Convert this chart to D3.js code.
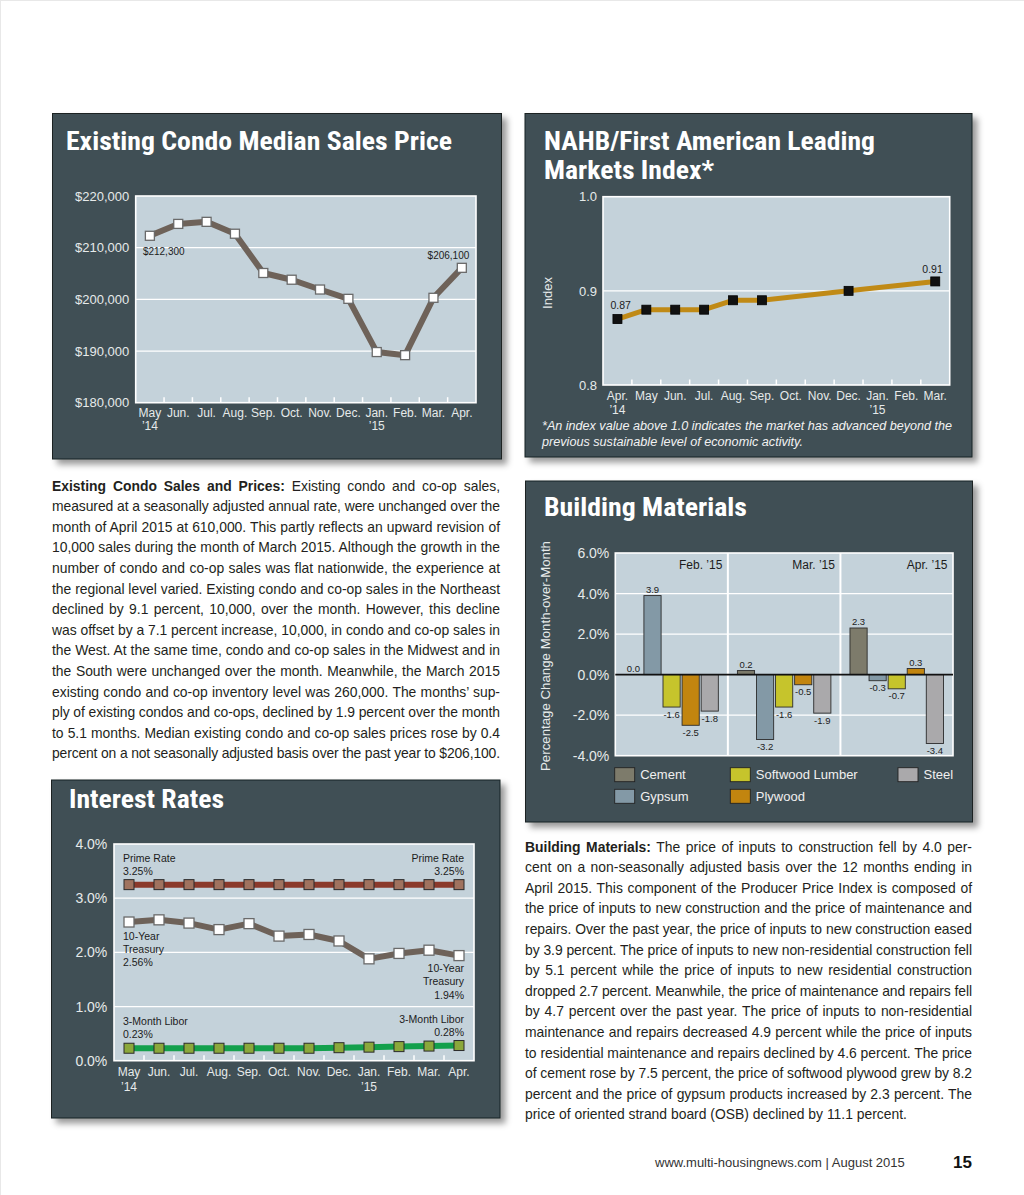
<!DOCTYPE html>
<html><head><meta charset="utf-8">
<script src="https://cdn.jsdelivr.net/npm/d3@7"></script>
<style>
html,body{margin:0;padding:0;background:#fff;}
svg{display:block;}
</style></head>
<body>
<svg id="page" width="1024" height="1195"></svg>
<script>
// ---------------- DATA ----------------
const condoMonths = ["May","Jun.","Jul.","Aug.","Sep.","Oct.","Nov.","Dec.","Jan.","Feb.","Mar.","Apr."];
const condoYears  = ["’14","","","","","","","","’15","","",""];
const condoPrices = [212300,214600,215000,212700,205100,203800,201900,200100,189800,189200,200300,206100];
const condoTicks  = [180000,190000,200000,210000,220000];

const nahbMonths = ["Apr.","May","Jun.","Jul.","Aug.","Sep.","Oct.","Nov.","Dec.","Jan.","Feb.","Mar."];
const nahbYears  = ["’14","","","","","","","","","’15","",""];
const nahbIndex  = [0.87,0.88,0.88,0.88,0.89,0.89,null,null,0.90,null,null,0.91];
const nahbTicks  = [0.8,0.9,1.0];

const bmPeriods   = ["Feb. ’15","Mar. ’15","Apr. ’15"];
const bmMaterials = ["Cement","Gypsum","Softwood Lumber","Plywood","Steel"];
const bmCement    = [0.0,0.2,2.3];
const bmGypsum    = [3.9,-3.2,-0.3];
const bmSoftwood  = [-1.6,-1.6,-0.7];
const bmPlywood   = [-2.5,-0.5,0.3];
const bmSteel     = [-1.8,-1.9,-3.4];
const bmTicks     = [-4,-2,0,2,4,6];

const rateMonths = ["May","Jun.","Jul.","Aug.","Sep.","Oct.","Nov.","Dec.","Jan.","Feb.","Mar.","Apr."];
const rateYears  = ["’14","","","","","","","","’15","","",""];
const primeRate  = [3.25,3.25,3.25,3.25,3.25,3.25,3.25,3.25,3.25,3.25,3.25,3.25];
const treasury10 = [2.56,2.60,2.54,2.42,2.53,2.30,2.33,2.21,1.88,1.98,2.04,1.94];
const libor3m    = [0.23,0.23,0.23,0.23,0.23,0.23,0.23,0.24,0.25,0.26,0.27,0.28];
const rateTicks  = [0,1,2,3,4];

// ---------------- STYLE ----------------
const FONT  = "'Liberation Sans', Arial, Helvetica, sans-serif";
const TFONT = "'Liberation Sans Narrow', 'Arial Narrow', 'Roboto Condensed', 'Liberation Sans', Arial, sans-serif";
const C = {panel:"#3f5054", plot:"#c4d2da", tick:"#e6eaea", ink:"#1c1c1c", text:"#231f20"};
const bmColors = {"Cement":"#7d7b6b","Gypsum":"#8399a6","Softwood Lumber":"#c6c42c","Plywood":"#c2850f","Steel":"#aaa9ab"};

const svg = d3.select("#page");
svg.append("rect").attr("x",0.5).attr("y",0.5).attr("width",1030).attr("height",1200)
  .attr("fill","#fff").attr("stroke","#e8e8e8").attr("stroke-width",1);
const defs = svg.append("defs");
const flt = defs.append("filter").attr("id","shadow").attr("x","-5%").attr("y","-5%").attr("width","115%").attr("height","115%");
flt.append("feDropShadow").attr("dx",5).attr("dy",5).attr("stdDeviation",3).attr("flood-color","#000").attr("flood-opacity",0.4);

function panel(x,y,w,h){
  svg.append("rect").attr("x",x).attr("y",y).attr("width",w).attr("height",h)
    .attr("fill",C.panel).attr("stroke","#1b2224").attr("stroke-width",1).attr("filter","url(#shadow)");
}
function title(text,x,y,w){
  svg.append("text").attr("x",x).attr("y",y).attr("font-family",TFONT).attr("font-weight","bold")
    .attr("font-size",25).attr("fill","#fff").attr("textLength",w).attr("lengthAdjust","spacingAndGlyphs").text(text);
}

function lineChart(o){
  const x = d3.scaleBand().domain(o.months).range([o.left,o.right]);
  const y = d3.scaleLinear().domain(o.domain).range([o.bottom,o.top]);
  const g = svg.append("g");
  g.append("rect").attr("x",o.left).attr("y",o.top).attr("width",o.right-o.left).attr("height",o.bottom-o.top).attr("fill",C.plot);
  g.selectAll(".grid").data(o.ticks.slice(1,-1)).join("line")
    .attr("x1",o.left).attr("x2",o.right).attr("y1",d=>y(d)).attr("y2",d=>y(d))
    .attr("stroke","#fff").attr("stroke-width",1.2);
  g.selectAll(".bt").data(o.months.slice(1)).join("line")
    .attr("x1",d=>x(d)).attr("x2",d=>x(d)).attr("y1",o.bottom).attr("y2",o.bottom-5.5)
    .attr("stroke","#fff").attr("stroke-width",1.5);
  g.append("rect").attr("x",o.left).attr("y",o.top).attr("width",o.right-o.left).attr("height",o.bottom-o.top)
    .attr("fill","none").attr("stroke","#fff").attr("stroke-width",1.6);
  const ya = g.append("g").attr("transform",`translate(${o.left},0)`)
    .call(d3.axisLeft(y).tickValues(o.ticks).tickFormat(o.fmt).tickSize(0).tickPadding(o.yPad));
  ya.select(".domain").remove();
  ya.attr("font-family",FONT).attr("font-size",o.ySize);
  ya.selectAll("text").attr("fill",C.tick);
  const xa = g.append("g").attr("transform",`translate(0,${o.bottom})`)
    .call(d3.axisBottom(x).tickSize(0).tickPadding(o.xPad));
  xa.select(".domain").remove();
  xa.attr("font-family",FONT).attr("font-size",12);
  xa.selectAll("text").attr("fill",C.tick).each(function(d,i){
    if(o.years[i]) d3.select(this).append("tspan").attr("x",0).attr("dy",o.yearDy).text(o.years[i]);
  });
  return {x,y,g};
}
function drawSeries(c, months, values, s){
  const pts = months.map((m,i)=>({m,v:values[i]})).filter(d=>d.v!=null);
  const cx = d=>c.x(d.m)+c.x.bandwidth()/2;
  c.g.append("path").datum(pts)
    .attr("d", d3.line().x(cx).y(d=>c.y(d.v)))
    .attr("fill","none").attr("stroke",s.color).attr("stroke-width",s.width)
    .attr("stroke-linejoin","round").attr("stroke-linecap","round");
  c.g.selectAll(null).data(pts).join("rect")
    .attr("x",d=>cx(d)-s.size/2).attr("y",d=>c.y(d.v)-s.size/2)
    .attr("width",s.size).attr("height",s.size)
    .attr("fill",s.fill).attr("stroke",s.stroke).attr("stroke-width",s.sw);
}
function label(lines,x,y,anchor,size,lh){
  const t = svg.append("text").attr("font-family",FONT).attr("font-size",size).attr("fill",C.ink).attr("text-anchor",anchor);
  lines.forEach((l,i)=>t.append("tspan").attr("x",x).attr("y",y+i*lh).text(l));
}

// ================= PANEL 1: Condo =================
panel(52.5,113.5,449,345.5);
title("Existing Condo Median Sales Price",66,149.5,386);
const c1 = lineChart({left:135.7,right:476,top:196,bottom:402.7,months:condoMonths,years:condoYears,
  domain:[180000,220000],ticks:condoTicks,fmt:d=>"$"+d3.format(",")(d),yPad:6.5,ySize:13,xPad:5.8,yearDy:"1.05em"});
drawSeries(c1,condoMonths,condoPrices,{color:"#6e6259",width:6,size:9,fill:"#fff",stroke:"#6a6a6a",sw:1.3});
label(["$"+d3.format(",")(condoPrices[0])], c1.x(condoMonths[0])+c1.x.bandwidth()/2-7, c1.y(condoPrices[0])+19.5,"start",10,12);
label(["$"+d3.format(",")(condoPrices[11])], c1.x(condoMonths[11])+c1.x.bandwidth()/2+7.5, c1.y(condoPrices[11])-8.5,"end",10,12);

// ================= PANEL 2: NAHB =================
panel(525,113.5,447,343.5);
title("NAHB/First American Leading",544,149.5,331);
title("Markets Index*",544,179,170);
const c2 = lineChart({left:603,right:949.7,top:196.7,bottom:385,months:nahbMonths,years:nahbYears,
  domain:[0.8,1.0],ticks:nahbTicks,fmt:d3.format(".1f"),yPad:6,ySize:13,xPad:6.8,yearDy:"1.1em"});
drawSeries(c2,nahbMonths,nahbIndex,{color:"#c08a16",width:5,size:9,fill:"#111",stroke:"#000",sw:0.8});
label([nahbIndex[0].toFixed(2)], c2.x(nahbMonths[0])+c2.x.bandwidth()/2-7, c2.y(nahbIndex[0])-10.5,"start",10.5,12);
label([nahbIndex[11].toFixed(2)], c2.x(nahbMonths[11])+c2.x.bandwidth()/2+7.5, c2.y(nahbIndex[11])-8.5,"end",10.5,12);
svg.append("text").attr("x",547).attr("y",293).attr("transform","rotate(-90,547,293)")
  .attr("text-anchor","middle").attr("dy","0.35em").attr("font-family",FONT).attr("font-size",13).attr("fill",C.tick).text("Index");
const fn = svg.append("text").attr("font-family",FONT).attr("font-style","italic").attr("font-size",12).attr("fill","#f2f2f2");
fn.append("tspan").attr("x",542).attr("y",429.5).attr("textLength",410).attr("lengthAdjust","spacingAndGlyphs")
  .text("*An index value above 1.0 indicates the market has advanced beyond the");
fn.append("tspan").attr("x",542).attr("y",446).attr("textLength",261).attr("lengthAdjust","spacingAndGlyphs")
  .text("previous sustainable level of economic activity.");

// ================= PANEL 3: Building Materials =================
panel(525.5,481,447,341);
title("Building Materials",544,515.7,203);
{
  const left=615.3,right=953,top=553,bottom=755.7;
  const x0 = d3.scaleBand().domain(bmPeriods).range([left,right]);
  const x1 = d3.scaleBand().domain(bmMaterials).range([0,x0.bandwidth()]).paddingInner(0.1).paddingOuter(0.5);
  const y = d3.scaleLinear().domain([-4,6]).range([bottom,top]);
  const series = {"Cement":bmCement,"Gypsum":bmGypsum,"Softwood Lumber":bmSoftwood,"Plywood":bmPlywood,"Steel":bmSteel};
  const g = svg.append("g");
  g.append("rect").attr("x",left).attr("y",top).attr("width",right-left).attr("height",bottom-top).attr("fill",C.plot);
  g.selectAll(".grid").data(bmTicks.filter(d=>d!==0 && d!==-4 && d!==6)).join("line")
    .attr("x1",left).attr("x2",right).attr("y1",d=>y(d)).attr("y2",d=>y(d)).attr("stroke","#fff").attr("stroke-width",1.2);
  g.selectAll(".sep").data(bmPeriods.slice(1)).join("line")
    .attr("x1",d=>x0(d)).attr("x2",d=>x0(d)).attr("y1",top).attr("y2",bottom).attr("stroke","#fff").attr("stroke-width",2);
  g.append("rect").attr("x",left).attr("y",top).attr("width",right-left).attr("height",bottom-top)
    .attr("fill","none").attr("stroke","#fff").attr("stroke-width",1.6);
  const rows = [];
  bmPeriods.forEach((p,i)=>bmMaterials.forEach(m=>rows.push({p,m,v:series[m][i]})));
  g.selectAll(".bar").data(rows.filter(d=>d.v!==0)).join("rect")
    .attr("x",d=>x0(d.p)+x1(d.m)).attr("width",x1.bandwidth())
    .attr("y",d=>y(Math.max(0,d.v))).attr("height",d=>Math.abs(y(d.v)-y(0)))
    .attr("fill",d=>bmColors[d.m]).attr("stroke","#2c2c2c").attr("stroke-width",0.9);
  g.append("line").attr("x1",left).attr("x2",right).attr("y1",y(0)).attr("y2",y(0)).attr("stroke","#111").attr("stroke-width",1.6);
  g.selectAll(".val").data(rows).join("text")
    .attr("x",d=>x0(d.p)+x1(d.m)+x1.bandwidth()/2)
    .attr("y",d=>d.v>=0 ? y(d.v)-2.5 : y(d.v)+10.5)
    .attr("text-anchor","middle").attr("font-family",FONT).attr("font-size",9.5).attr("fill",C.ink)
    .text(d=>d.v.toFixed(1));
  g.selectAll(".hdr").data(bmPeriods).join("text")
    .attr("x",d=>x0(d)+x0.bandwidth()-5.5).attr("y",569)
    .attr("text-anchor","end").attr("font-family",FONT).attr("font-size",12).attr("fill",C.ink).text(d=>d);
  const ya = g.append("g").attr("transform",`translate(${left},0)`)
    .call(d3.axisLeft(y).tickValues(bmTicks).tickFormat(d=>d.toFixed(1)+"%").tickSize(0).tickPadding(6));
  ya.select(".domain").remove();
  ya.attr("font-family",FONT).attr("font-size",14);
  ya.selectAll("text").attr("fill",C.tick);
  svg.append("text").attr("x",545).attr("y",656).attr("transform","rotate(-90,545,656)")
    .attr("text-anchor","middle").attr("dy","0.35em").attr("font-family",FONT).attr("font-size",13).attr("fill",C.tick)
    .attr("textLength",230).attr("lengthAdjust","spacingAndGlyphs").text("Percentage Change Month-over-Month");
  const colX=[614.7,730.3,898], rowY=[774.7,796.3];
  const lg = g.selectAll(".lg").data(bmMaterials).join("g")
    .attr("transform",(d,j)=>`translate(${colX[Math.floor(j/2)]},${rowY[j%2]})`);
  lg.append("rect").attr("x",0).attr("y",-7).attr("width",20).attr("height",14)
    .attr("fill",d=>bmColors[d]).attr("stroke","#222").attr("stroke-width",0.9);
  lg.append("text").attr("x",25.5).attr("y",0).attr("dy","0.36em").attr("font-family",FONT).attr("font-size",13)
    .attr("fill","#f0f0f0").text(d=>d);
}

// ================= PANEL 4: Interest Rates =================
panel(51.5,780,448.5,338);
title("Interest Rates",69,808.3,155);
const c4 = lineChart({left:114,right:474,top:844,bottom:1060.7,months:rateMonths,years:rateYears,
  domain:[0,4],ticks:rateTicks,fmt:d=>d.toFixed(1)+"%",yPad:6.7,ySize:14,xPad:6.8,yearDy:"1.25em"});
drawSeries(c4,rateMonths,primeRate,{color:"#8b3a2b",width:6,size:10,fill:"#a0735f",stroke:"#2b2b2b",sw:1});
drawSeries(c4,rateMonths,treasury10,{color:"#6e6259",width:6,size:10,fill:"#fff",stroke:"#6a6a6a",sw:1.3});
drawSeries(c4,rateMonths,libor3m,{color:"#13a04c",width:6,size:10,fill:"#8ba83b",stroke:"#2b2b2b",sw:1});
label(["Prime Rate",primeRate[0].toFixed(2)+"%"],123,862,"start",10.5,13.4);
label(["Prime Rate",primeRate[11].toFixed(2)+"%"],464,862,"end",10.5,13.4);
label(["10-Year","Treasury",treasury10[0].toFixed(2)+"%"],123,939.8,"start",10.5,13.2);
label(["10-Year","Treasury",treasury10[11].toFixed(2)+"%"],464,972,"end",10.5,13.3);
label(["3-Month Libor",libor3m[0].toFixed(2)+"%"],123,1024.8,"start",10.5,13.2);
label(["3-Month Libor",libor3m[11].toFixed(2)+"%"],464,1023,"end",10.5,13.2);

// ================= PARAGRAPHS =================
function para(lines, bold, x, y0, width, lh, justifyLast){
  lines.forEach((ln,i)=>{
    const t = svg.append("text").attr("x",x).attr("y",y0+i*lh).attr("font-family",FONT).attr("font-size",13.9).attr("fill",C.text);
    if(i===0 && bold){
      t.append("tspan").attr("font-weight","bold").text(bold);
      t.append("tspan").text(ln);
    } else t.text(ln);
    if(i===lines.length-1 && !justifyLast) return;
    const full = (i===0 && bold ? bold : "") + ln;
    const nat = t.node().getComputedTextLength();
    const diff = width - nat;
    const spaces = (full.match(/ /g)||[]).length;
    if(diff>=0 && spaces>0) t.attr("word-spacing",diff/spaces);
    else if(diff<0) t.attr("letter-spacing",diff/(full.length-1));
  });
}
para([
  " Existing condo and co-op sales,",
  "measured at a seasonally adjusted annual rate, were unchanged over the",
  "month of April 2015 at 610,000. This partly reflects an upward revision of",
  "10,000 sales during the month of March 2015. Although the growth in the",
  "number of condo and co-op sales was flat nationwide, the experience at",
  "the regional level varied. Existing condo and co-op sales in the Northeast",
  "declined by 9.1 percent, 10,000, over the month. However, this decline",
  "was offset by a 7.1 percent increase, 10,000, in condo and co-op sales in",
  "the West. At the same time, condo and co-op sales in the Midwest and in",
  "the South were unchanged over the month. Meanwhile, the March 2015",
  "existing condo and co-op inventory level was 260,000. The months’ sup-",
  "ply of existing condos and co-ops, declined by 1.9 percent over the month",
  "to 5.1 months. Median existing condo and co-op sales prices rose by 0.4",
  "percent on a not seasonally adjusted basis over the past year to $206,100."
], "Existing Condo Sales and Prices:", 52, 490.7, 448, 20.58, true);

para([
  " The price of inputs to construction fell by 4.0 per-",
  "cent on a non-seasonally adjusted basis over the 12 months ending in",
  "April 2015. This component of the Producer Price Index is composed of",
  "the price of inputs to new construction and the price of maintenance and",
  "repairs. Over the past year, the price of inputs to new construction eased",
  "by 3.9 percent. The price of inputs to new non-residential construction fell",
  "by 5.1 percent while the price of inputs to new residential construction",
  "dropped 2.7 percent. Meanwhile, the price of maintenance and repairs fell",
  "by 4.7 percent over the past year. The price of inputs to non-residential",
  "maintenance and repairs decreased 4.9 percent while the price of inputs",
  "to residential maintenance and repairs declined by 4.6 percent. The price",
  "of cement rose by 7.5 percent, the price of softwood plywood grew by 8.2",
  "percent and the price of gypsum products increased by 2.3 percent. The",
  "price of oriented strand board (OSB) declined by 11.1 percent."
], "Building Materials:", 525, 851.7, 447, 20.58, false);

// ================= FOOTER =================
svg.append("text").attr("x",655).attr("y",1166.5).attr("font-family",FONT).attr("font-size",13).attr("fill","#333")
  .text("www.multi-housingnews.com  | August 2015");
svg.append("text").attr("x",972).attr("y",1168).attr("text-anchor","end").attr("font-family",FONT).attr("font-size",17)
  .attr("font-weight","bold").attr("fill","#111").text("15");
</script>
</body></html>
